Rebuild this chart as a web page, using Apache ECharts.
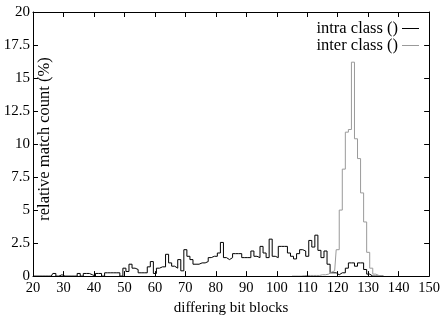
<!DOCTYPE html>
<html>
<head>
<meta charset="utf-8">
<script src="https://cdn.jsdelivr.net/npm/echarts@6/dist/echarts.min.js"></script>
<style>html,body{margin:0;padding:0;background:#fff}#c{width:443px;height:321px}</style>
</head>
<body>
<div id="c"></div>
<script>
// x-axis tick labels
const xTicks = [20, 30, 40, 50, 60, 70, 80, 90, 100, 110, 120, 130, 140, 150];
// y-axis tick labels
const yTicks = [0, 2.5, 5, 7.5, 10, 12.5, 15, 17.5, 20];
// bins (differing bit blocks) for each series
const intraBins = [20,21,22,23,24,25,26,27,28,29,30,31,32,33,34,35,36,37,38,39,40,41,42,43,44,45,46,47,48,49,50,51,52,53,54,55,56,57,58,59,60,61,62,63,64,65,66,67,68,69,70,71,72,73,74,75,76,77,78,79,80,81,82,83,84,85,86,87,88,89,90,91,92,93,94,95,96,97,98,99,100,101,102,103,104,105,106,107,108,109,110,111,112,113,114,115,116,117,118,119,120,121,122,123,124,125,126,127,128,129,130,131,132,133,134,135];
const intraClass = [0,0,0,0,0,0,0,0.2,0,0.1,0,0,0,0,0,0.2,0,0.2,0.2,0.1,0,0.2,0.2,0,0.25,0.25,0.25,0.25,0.25,0,0.6,0.35,0.9,0.6,0.5,0.25,0.25,0.25,0.7,1.1,0.2,0.6,0.7,0.7,1.65,1.0,0.75,0.6,1.25,0.4,2.0,1.5,1.25,0.9,0.9,1.0,1.0,1.1,1.4,1.5,1.5,1.75,2.55,1.4,1.25,1.4,1.7,1.7,1.7,1.4,1.4,1.4,1.9,1.5,1.4,2.25,1.75,1.4,2.8,1.5,1.4,2.25,2.25,2.25,1.75,1.5,1.3,1.7,2.0,1.9,1.5,2.7,2.2,3.1,1.95,1.4,1.9,0.9,0.25,0.25,0.1,0.25,0.25,0.6,1.0,1.0,0.75,1.0,1.0,0.5,0.15,0,0,0,0,0];
const interBins = [105,106,107,108,109,110,111,112,113,114,115,116,117,118,119,120,121,122,123,124,125,126,127,128,129,130,131,132,133,134,135];
const interClass = [0,0,0,0,0.03,0.05,0.05,0.05,0.05,0.05,0.1,0.1,0.15,0.3,0.4,2.0,5.0,8.1,10.9,11.1,16.2,10.4,8.9,6.3,4.1,1.8,0.6,0.15,0.05,0,0];

const FONT = 'Liberation Serif';
const chart = echarts.init(document.getElementById('c'), null, {renderer: 'canvas'});
const xMin = xTicks[0], xMax = xTicks[xTicks.length - 1];
const yMin = yTicks[0], yMax = yTicks[yTicks.length - 1];
const xInt = xTicks[1] - xTicks[0], yInt = yTicks[1] - yTicks[0];

const tick = {show: true, inside: true, length: 5, lineStyle: {color: '#000', width: 1}};
const axisLine = {show: true, onZero: false, lineStyle: {color: '#000', width: 1}};

chart.setOption({
  animation: false,
  backgroundColor: '#fff',
  grid: {left: 33, right: 10, top: 12, bottom: 39, containLabel: false},
  legend: {
    orient: 'vertical', right: 19, top: 15, align: 'right',
    icon: 'rect', itemWidth: 17, itemHeight: 1, itemGap: 0,
    textStyle: {fontFamily: FONT, fontSize: 16.5, color: '#000', lineHeight: 17, padding: [0, -1, 0, 0]},
    data: ['intra class ()', 'inter class ()']
  },
  xAxis: [{
    type: 'value', min: xMin, max: xMax, interval: xInt, position: 'bottom', z: 5,
    axisLine: axisLine, axisTick: tick, splitLine: {show: false},
    axisLabel: {fontFamily: FONT, fontSize: 14.5, color: '#000', margin: 5},
    name: 'differing bit blocks', nameLocation: 'middle', nameGap: 20,
    nameTextStyle: {fontFamily: FONT, fontSize: 15, color: '#000'}
  }, {
    type: 'value', min: xMin, max: xMax, interval: xInt, position: 'top', z: 5,
    axisLine: axisLine, axisTick: tick, splitLine: {show: false}, axisLabel: {show: false}
  }],
  yAxis: [{
    type: 'value', min: yMin, max: yMax, interval: yInt, position: 'left', z: 5,
    axisLine: axisLine, axisTick: tick, splitLine: {show: false},
    axisLabel: {fontFamily: FONT, fontSize: 15, color: '#000', margin: 3}
  }, {
    type: 'value', min: yMin, max: yMax, interval: yInt, position: 'right', z: 5,
    axisLine: axisLine, axisTick: tick, splitLine: {show: false}, axisLabel: {show: false}
  }],
  graphic: [{
    type: 'text', x: 45, y: 139, rotation: Math.PI / 2, z: 10,
    style: {text: 'relative match count (%)', font: '16.5px "Liberation Serif"', fill: '#000',
            textAlign: 'center', textVerticalAlign: 'middle'}
  }],
  series: [{
    name: 'intra class ()', type: 'line', step: 'middle', symbol: 'none',
    xAxisIndex: 0, yAxisIndex: 0,
    lineStyle: {color: '#000', width: 1}, itemStyle: {color: '#000'},
    data: intraBins.map((b, i) => [b, intraClass[i]])
  }, {
    name: 'inter class ()', type: 'line', step: 'middle', symbol: 'none',
    xAxisIndex: 0, yAxisIndex: 0,
    lineStyle: {color: '#9a9a9a', width: 1}, itemStyle: {color: '#9a9a9a'},
    data: interBins.map((b, i) => [b, interClass[i]])
  }]
});
</script>
</body>
</html>
